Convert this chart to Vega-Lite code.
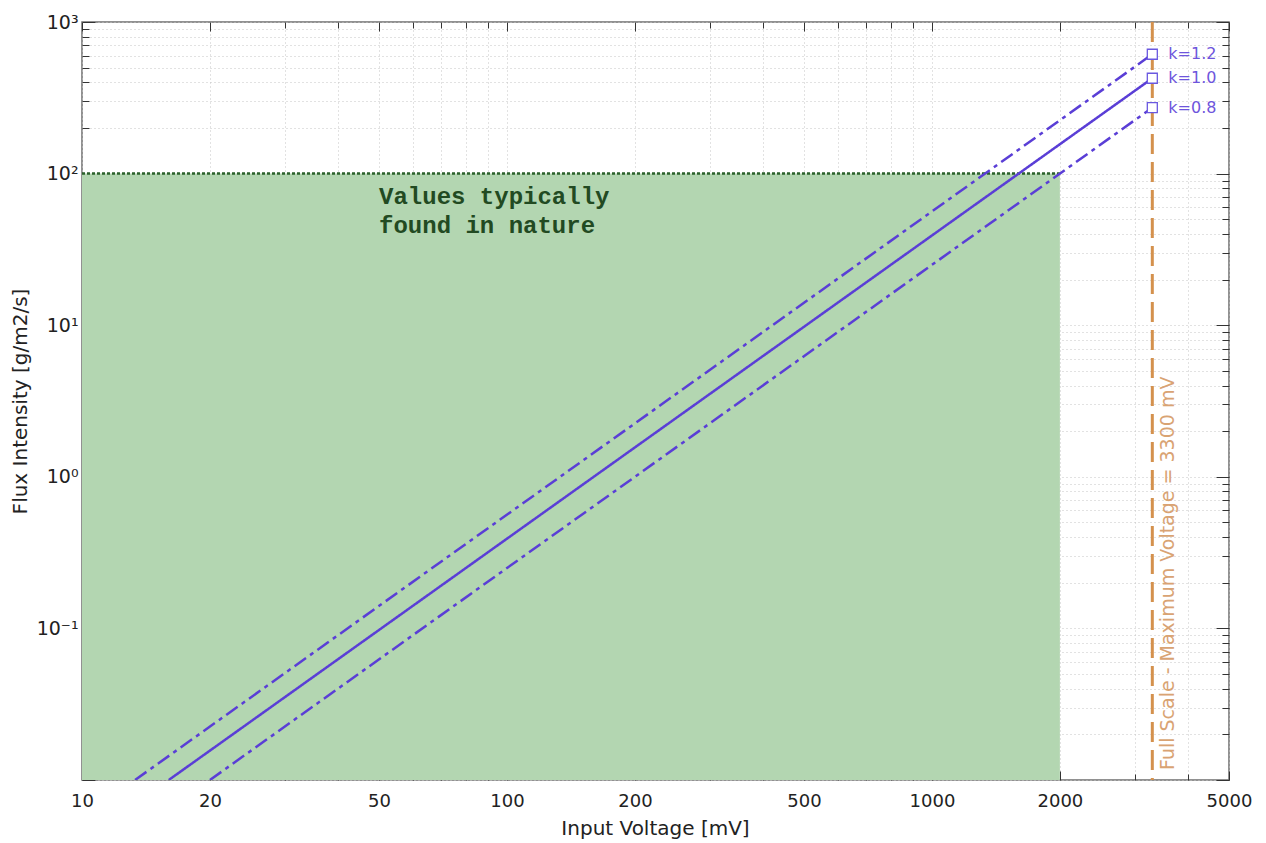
{
  "$schema": "https://vega.github.io/schema/vega-lite/v6.json",
  "width": 1147,
  "height": 758,
  "autosize": {"type": "none"},
  "padding": {"left": 82, "top": 22, "right": 37, "bottom": 63},
  "background": "white",
  "config": {
    "view": {"stroke": "#6e6e6e", "strokeWidth": 1.5},
    "font": "DejaVu Sans"
  },
  "datasets": {
    "zone": [{"v0": 10, "v1": 2000, "f0": 0.01, "f1": 100}],
    "curves": [
      {"k": "1.2", "style": "dashdot", "v": 13.33, "f": 0.01},
      {"k": "1.2", "style": "dashdot", "v": 3300, "f": 612.6},
      {"k": "1.0", "style": "solid", "v": 16, "f": 0.01},
      {"k": "1.0", "style": "solid", "v": 3300, "f": 425.4},
      {"k": "0.8", "style": "dashdot", "v": 20, "f": 0.01},
      {"k": "0.8", "style": "dashdot", "v": 3300, "f": 272.3}
    ],
    "ends": [
      {"k": "1.2", "v": 3300, "f": 612.6, "label": "k=1.2"},
      {"k": "1.0", "v": 3300, "f": 425.4, "label": "k=1.0"},
      {"k": "0.8", "v": 3300, "f": 272.3, "label": "k=0.8"}
    ],
    "fullscale": [{"v": 3300, "f": 0.01, "t": "Full Scale - Maximum Voltage = 3300 mV"}],
    "note": [{"v": 50, "f": 84, "t": ["Values typically", "found in nature"]}]
  },
  "resolve": {"axis": {"x": "independent", "y": "independent"}},
  "layer": [
    {
      "data": {"name": "zone"},
      "mark": {"type": "rect", "color": "#b3d6b1", "opacity": 1},
      "encoding": {
        "x": {
          "field": "v0", "type": "quantitative",
          "scale": {"type": "log", "domain": [10, 5000], "nice": false},
          "axis": {
            "orient": "bottom",
            "values": [10,20,30,40,50,60,70,80,90,100,200,300,400,500,600,700,800,900,1000,2000,3000,4000,5000],
            "labelExpr": "indexof([10,20,50,100,200,500,1000,2000,5000], datum.value) >= 0 ? '' + datum.value : ''",
            "labelOverlap": false, "labelBound": false, "labelFlush": false,
            "labelFont": "DejaVu Sans", "labelFontSize": 18, "labelColor": "#222", "labelPadding": 12,
            "ticks": false, "domain": false,
            "grid": true, "gridColor": "#c4c4c4", "gridDash": [1, 3], "gridWidth": 1,
            "title": "Input Voltage [mV]", "titleFont": "DejaVu Sans", "titleFontSize": 20, "titleFontWeight": "normal", "titleColor": "#222",
            "titleX": 573, "titleY": 48, "titleBaseline": "middle", "titleAlign": "center"
          }
        },
        "x2": {"field": "v1"},
        "y": {
          "field": "f0", "type": "quantitative",
          "scale": {"type": "log", "domain": [0.01, 1000], "nice": false},
          "axis": {
            "orient": "left",
            "values": [0.01,0.02,0.03,0.04,0.05,0.06,0.07,0.08,0.09,0.1,0.2,0.3,0.4,0.5,0.6,0.7,0.8,0.9,1,2,3,4,5,6,7,8,9,10,20,30,40,50,60,70,80,90,100,200,300,400,500,600,700,800,900,1000],
            "labelExpr": "datum.value == 1000 ? '10³' : datum.value == 100 ? '10²' : datum.value == 10 ? '10¹' : datum.value == 1 ? '10⁰' : datum.value == 0.1 ? '10⁻¹' : ''",
            "labelOverlap": false, "labelBound": false, "labelFlush": false,
            "labelFont": "DejaVu Sans", "labelFontSize": 19, "labelColor": "#222", "labelPadding": 4,
            "ticks": false, "domain": false,
            "grid": true, "gridColor": "#c4c4c4", "gridDash": [1, 3], "gridWidth": 1,
            "title": "Flux Intensity [g/m2/s]", "titleFont": "DejaVu Sans", "titleFontSize": 20, "titleFontWeight": "normal", "titleColor": "#222",
            "titleX": -62, "titleY": 379, "titleBaseline": "middle", "titleAlign": "center", "titleAngle": 270
          }
        },
        "y2": {"field": "f1"}
      }
    },
    {
      "data": {"name": "zone"},
      "mark": {"type": "rule", "color": "#2a602a", "strokeDash": [3, 2], "strokeWidth": 2.5},
      "encoding": {
        "x": {"field": "v0", "type": "quantitative",
          "axis": {"orient": "bottom", "values": [10,20,50,100,200,500,1000,2000,5000], "labels": false, "grid": false, "domain": false, "title": null, "ticks": true, "tickSize": -9, "tickColor": "#333", "tickWidth": 1}},
        "x2": {"field": "v1"},
        "y": {"field": "f1", "type": "quantitative",
          "axis": {"orient": "left", "values": [0.01,0.1,1,10,100,1000], "labels": false, "grid": false, "domain": false, "title": null, "ticks": true, "tickSize": -13, "tickColor": "#333", "tickWidth": 1}}
      }
    },
    {
      "data": {"name": "fullscale"},
      "mark": {"type": "rule", "color": "#d4914d", "strokeDash": [20, 8], "strokeWidth": 3},
      "encoding": {
        "x": {"field": "v", "type": "quantitative", "axis": null}
      }
    },
    {
      "data": {"name": "fullscale"},
      "mark": {"type": "text", "angle": 270, "align": "left", "baseline": "middle", "dx": 10, "dy": 16, "font": "DejaVu Sans", "fontSize": 19, "color": "#d9a373"},
      "encoding": {
        "x": {"field": "v", "type": "quantitative", "axis": null},
        "y": {"field": "f", "type": "quantitative", "axis": null},
        "text": {"field": "t"}
      }
    },
    {
      "data": {"name": "note"},
      "mark": {"type": "text", "align": "left", "baseline": "top", "font": "Liberation Mono", "fontWeight": "bold", "fontSize": 24, "lineHeight": 29, "color": "#224a22"},
      "encoding": {
        "x": {"field": "v", "type": "quantitative", "axis": null},
        "y": {"field": "f", "type": "quantitative", "axis": null},
        "text": {"field": "t"}
      }
    },
    {
      "data": {"name": "curves"},
      "mark": {"type": "line", "color": "#5a3ed6", "strokeWidth": 2.5, "clip": true},
      "encoding": {
        "x": {"field": "v", "type": "quantitative",
          "axis": {"orient": "bottom", "values": [30,40,60,70,80,90,300,400,600,700,800,900,3000,4000], "labels": false, "grid": false, "domain": false, "title": null, "ticks": true, "tickSize": -6, "tickColor": "#333", "tickWidth": 1}},
        "y": {"field": "f", "type": "quantitative",
          "axis": {"orient": "left", "values": [0.02,0.03,0.04,0.05,0.06,0.07,0.08,0.09,0.2,0.3,0.4,0.5,0.6,0.7,0.8,0.9,2,3,4,5,6,7,8,9,20,30,40,50,60,70,80,90,200,300,400,500,600,700,800,900], "labels": false, "grid": false, "domain": false, "title": null, "ticks": true, "tickSize": -7, "tickColor": "#333", "tickWidth": 1}},
        "detail": {"field": "k"},
        "strokeDash": {"field": "style", "type": "nominal", "scale": {"domain": ["solid", "dashdot"], "range": [[1, 0], [14, 5, 4, 5]]}, "legend": null}
      }
    },
    {
      "data": {"name": "ends"},
      "mark": {"type": "square", "size": 100, "filled": false, "fill": "white", "fillOpacity": 1, "stroke": "#6a58e0", "strokeWidth": 1.3, "opacity": 1},
      "encoding": {
        "x": {"field": "v", "type": "quantitative",
          "axis": {"orient": "top", "values": [10,20,50,100,200,500,1000,2000,5000], "labels": false, "grid": false, "domain": false, "title": null, "ticks": true, "tickSize": -9, "tickColor": "#333", "tickWidth": 1}},
        "y": {"field": "f", "type": "quantitative",
          "axis": {"orient": "right", "values": [0.01,0.1,1,10,100,1000], "labels": false, "grid": false, "domain": false, "title": null, "ticks": true, "tickSize": -13, "tickColor": "#333", "tickWidth": 1}}
      }
    },
    {
      "data": {"name": "ends"},
      "mark": {"type": "text", "align": "left", "baseline": "middle", "dx": 16, "font": "DejaVu Sans", "fontSize": 16, "color": "#6e55dc"},
      "encoding": {
        "x": {"field": "v", "type": "quantitative",
          "axis": {"orient": "top", "values": [30,40,60,70,80,90,300,400,600,700,800,900,3000,4000], "labels": false, "grid": false, "domain": false, "title": null, "ticks": true, "tickSize": -6, "tickColor": "#333", "tickWidth": 1}},
        "y": {"field": "f", "type": "quantitative",
          "axis": {"orient": "right", "values": [0.02,0.03,0.04,0.05,0.06,0.07,0.08,0.09,0.2,0.3,0.4,0.5,0.6,0.7,0.8,0.9,2,3,4,5,6,7,8,9,20,30,40,50,60,70,80,90,200,300,400,500,600,700,800,900], "labels": false, "grid": false, "domain": false, "title": null, "ticks": true, "tickSize": -7, "tickColor": "#333", "tickWidth": 1}},
        "text": {"field": "label"}
      }
    }
  ]
}
